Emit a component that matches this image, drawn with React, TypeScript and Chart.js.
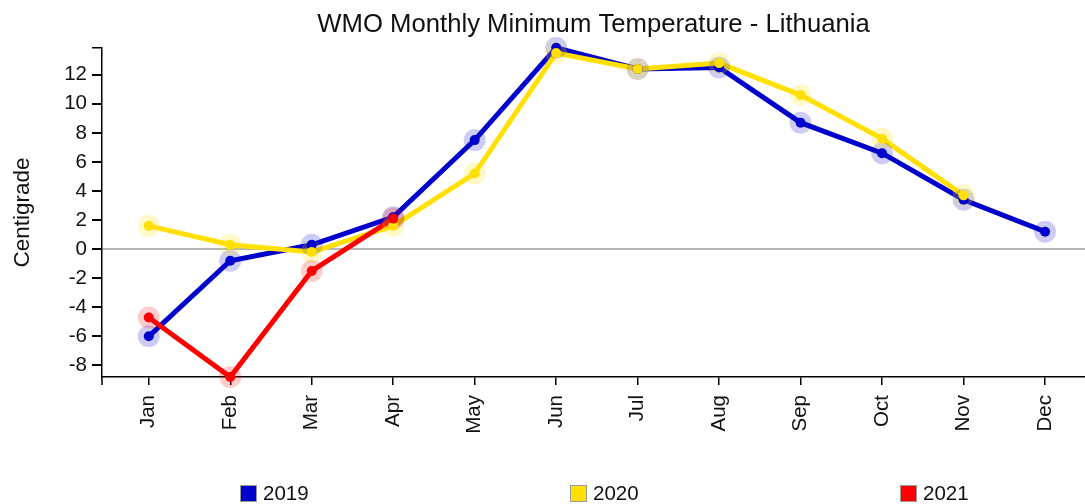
import React, { useEffect, useRef } from "react";
import { Chart, registerables } from "chart.js";

Chart.register(...registerables);

const MONTHS = ["Jan", "Feb", "Mar", "Apr", "May", "Jun", "Jul", "Aug", "Sep", "Oct", "Nov", "Dec"];
const SERIES_NAMES = ["2019", "2020", "2021"];
const VALUES_2019 = [-6.0, -0.8, 0.3, 2.2, 7.5, 13.85, 12.4, 12.5, 8.7, 6.6, 3.4, 1.2];
const VALUES_2020 = [1.6, 0.3, -0.2, 1.6, 5.2, 13.5, 12.4, 12.8, 10.6, 7.6, 3.7, null];
const VALUES_2021 = [-4.7, -8.8, -1.5, 2.1, null, null, null, null, null, null, null, null];
const COLORS = ["#0000cc", "#ffe000", "#ff0000"];
const HALOS = ["rgba(0,0,204,0.2)", "rgba(255,224,0,0.22)", "rgba(255,0,0,0.2)"];
const Y_TICK_STEP = 2;

const FONT = "'Liberation Sans', Arial, sans-serif";

const outerTicks = {
  id: "outerTicks",
  afterDraw(chart: any) {
    const { ctx, chartArea } = chart;
    ctx.save();
    ctx.strokeStyle = "#000";
    ctx.lineWidth = 1.5;
    ctx.beginPath();
    ctx.moveTo(chartArea.left - 10, chartArea.top);
    ctx.lineTo(chartArea.left, chartArea.top);
    ctx.moveTo(chartArea.left, chartArea.bottom);
    ctx.lineTo(chartArea.left, chartArea.bottom + 8);
    ctx.stroke();
    ctx.restore();
  },
};

export default function App() {
  const ref = useRef<HTMLCanvasElement | null>(null);

  useEffect(() => {
    document.body.style.margin = "0";
    const all = [VALUES_2019, VALUES_2020, VALUES_2021];
    const toXY = (arr: (number | null)[]) => arr.map((v, i) => ({ x: i, y: v }));
    const flat = all.flat().filter((v) => v !== null) as number[];
    const yMin = Math.min(...flat);
    const yMax = Math.max(...flat);

    const datasets: any[] = [];
    all.forEach((arr, i) => {
      datasets.push({
        label: SERIES_NAMES[i],
        data: toXY(arr),
        borderColor: COLORS[i],
        backgroundColor: COLORS[i],
        borderWidth: 5,
        pointRadius: 0,
        spanGaps: false,
        clip: false,
        order: 33 - i,
      });
    });
    all.forEach((arr, i) => {
      datasets.push({
        label: SERIES_NAMES[i] + " halo",
        data: toXY(arr),
        showLine: false,
        pointRadius: 11,
        pointBorderWidth: 0,
        pointBackgroundColor: HALOS[i],
        clip: false,
        order: 23 - i,
      });
    });
    all.forEach((arr, i) => {
      datasets.push({
        label: SERIES_NAMES[i] + " point",
        data: toXY(arr),
        showLine: false,
        pointRadius: 5,
        pointBorderWidth: 0,
        pointBackgroundColor: COLORS[i],
        clip: false,
        order: 13 - i,
      });
    });

    const chart = new Chart(ref.current!, {
      type: "line",
      data: { datasets },
      plugins: [outerTicks],
      options: {
        animation: false,
        responsive: false,
        maintainAspectRatio: false,
        layout: { autoPadding: false, padding: { left: 0, right: 0, top: 0, bottom: 0 } },
        plugins: {
          legend: { display: false },
          tooltip: { enabled: false },
          title: {
            display: true,
            text: "WMO Monthly Minimum Temperature - Lithuania",
            fullSize: false,
            color: "#111",
            font: { family: FONT, size: 25.7, weight: "normal" },
            padding: { top: 9, bottom: 8 },
          },
        },
        scales: {
          x: {
            type: "linear",
            min: -0.574,
            max: 11.49,
            afterFit: (s: any) => {
              s.height = 504 - 377;
              s.paddingLeft = 0;
              s.paddingRight = 0;
            },
            border: { display: true, color: "#000", width: 1.5 },
            grid: { drawOnChartArea: false, drawTicks: true, tickLength: 8, tickColor: "#000", lineWidth: 1.5 },
            ticks: {
              stepSize: 1,
              includeBounds: false,
              autoSkip: false,
              maxRotation: 90,
              minRotation: 90,
              padding: 10,
              color: "#111",
              font: { family: FONT, size: 20.5 },
              callback: (v: any) => MONTHS[v] ?? "",
            },
          },
          y: {
            type: "linear",
            min: yMin,
            max: yMax,
            afterFit: (s: any) => {
              s.width = 102;
            },
            border: { display: true, color: "#000", width: 1.5 },
            grid: {
              drawOnChartArea: true,
              drawTicks: true,
              tickLength: 10,
              tickColor: "#000",
              lineWidth: 2,
              color: (c: any) => (c.tick && c.tick.value === 0 ? "#b4b4b4" : "rgba(0,0,0,0)"),
            },
            ticks: {
              stepSize: Y_TICK_STEP,
              includeBounds: false,
              padding: 5,
              color: "#111",
              font: { family: FONT, size: 20.5 },
              callback: (v: any) => String(v),
            },
            title: {
              display: true,
              text: "Centigrade",
              color: "#111",
              font: { family: FONT, size: 22.5 },
              padding: { top: 9, bottom: 0 },
            },
          },
        },
      },
    });
    return () => chart.destroy();
  }, []);

  const legendLeft = [240, 570, 900];
  return (
    <div style={{ position: "relative", width: 1085, height: 504, overflow: "hidden" }}>
      <canvas ref={ref} width={1085} height={504} style={{ display: "block", width: 1085, height: 504 }} />
      {SERIES_NAMES.map((name, i) => (
        <div
          key={name}
          style={{
            position: "absolute",
            left: legendLeft[i],
            top: 482,
            display: "flex",
            alignItems: "center",
            fontFamily: FONT,
            fontSize: 20.5,
            color: "#111",
            lineHeight: "22px",
          }}
        >
          <span
            style={{
              display: "inline-block",
              width: 15,
              height: 15,
              background: COLORS[i],
              border: "1.5px solid #999",
              marginRight: 6,
            }}
          />
          <span>{name}</span>
        </div>
      ))}
    </div>
  );
}
